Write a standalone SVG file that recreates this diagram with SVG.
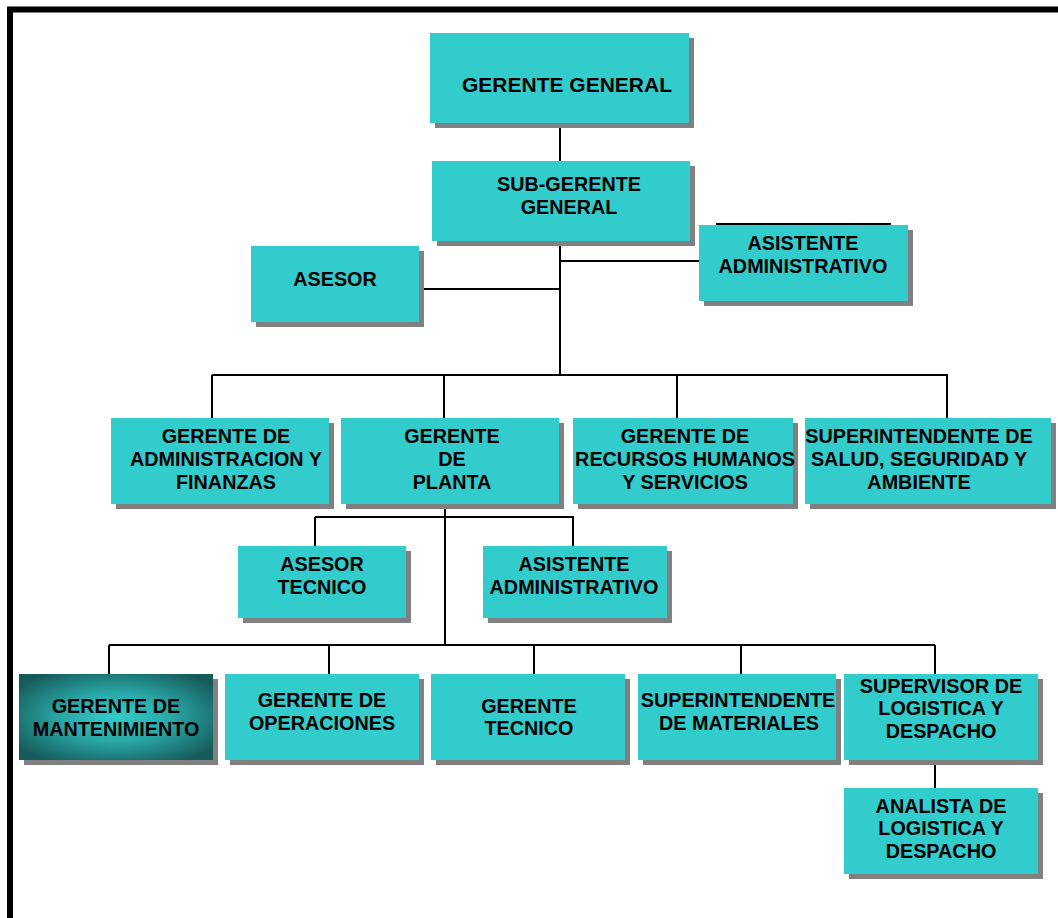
<svg xmlns="http://www.w3.org/2000/svg" width="1058" height="918" viewBox="0 0 1058 918">
<defs>
<style>
.box{fill:#33CCCC}
.sh{fill:#808080}
.t{font-family:"Liberation Sans",Arial,sans-serif;font-weight:bold;font-size:19.8px;fill:#000;text-anchor:middle}
.c line{stroke:#000;stroke-width:2;fill:none}
</style>
<radialGradient id="mantGrad" cx="0.5" cy="0.5" r="0.62">
<stop offset="0" stop-color="#33CCCC"/>
<stop offset="0.45" stop-color="#2AA8A8"/>
<stop offset="1" stop-color="#165A5A"/>
</radialGradient>
</defs>
<rect width="1058" height="918" fill="#fff"/>
<rect x="10" y="9.5" width="1100" height="1000" fill="none" stroke="#000" stroke-width="6"/>
<g class="c" id="connectors">
<line x1="560" y1="123" x2="560" y2="161"/>
<line x1="560" y1="241" x2="560" y2="375"/>
<line x1="560" y1="261" x2="699" y2="261"/>
<line x1="418" y1="289" x2="560" y2="289"/>
<line x1="716" y1="224" x2="891" y2="224"/>
<line x1="212" y1="375" x2="948" y2="375"/>
<line x1="212" y1="375" x2="212" y2="418"/>
<line x1="444" y1="375" x2="444" y2="418"/>
<line x1="677" y1="375" x2="677" y2="418"/>
<line x1="947" y1="375" x2="947" y2="418"/>
<line x1="445" y1="504" x2="445" y2="645"/>
<line x1="315" y1="517" x2="574" y2="517"/>
<line x1="315" y1="517" x2="315" y2="546"/>
<line x1="573" y1="517" x2="573" y2="546"/>
<line x1="109" y1="645" x2="935" y2="645"/>
<line x1="109" y1="645" x2="109" y2="674"/>
<line x1="329" y1="645" x2="329" y2="674"/>
<line x1="534" y1="645" x2="534" y2="674"/>
<line x1="741" y1="645" x2="741" y2="674"/>
<line x1="935" y1="645" x2="935" y2="674"/>
<line x1="935" y1="760" x2="935" y2="788"/>
</g>
<g id="gerente-general">
<rect class="sh" x="435" y="38" width="259" height="90"/>
<rect class="box" x="430" y="33" width="259" height="90"/>
<text class="t" x="567" y="92" style="font-size:21px">GERENTE GENERAL</text>
</g>
<g id="sub-gerente">
<rect class="sh" x="437" y="166" width="258" height="80"/>
<rect class="box" x="432" y="161" width="258" height="80"/>
<text class="t" x="569" y="191">SUB-GERENTE</text>
<text class="t" x="569" y="214">GENERAL</text>
</g>
<g id="asistente-admin-1">
<rect class="sh" x="704" y="230" width="209" height="76"/>
<rect class="box" x="699" y="225" width="209" height="76"/>
<text class="t" x="803" y="250">ASISTENTE</text>
<text class="t" x="803" y="273">ADMINISTRATIVO</text>
</g>
<g id="asesor">
<rect class="sh" x="256" y="251" width="168" height="76"/>
<rect class="box" x="251" y="246" width="168" height="76"/>
<text class="t" x="335" y="286">ASESOR</text>
</g>
<g id="gerente-admin-finanzas">
<rect class="sh" x="116" y="423" width="218" height="86"/>
<rect class="box" x="111" y="418" width="218" height="86"/>
<text class="t" x="226" y="443">GERENTE DE</text>
<text class="t" x="226" y="466">ADMINISTRACION Y</text>
<text class="t" x="226" y="489">FINANZAS</text>
</g>
<g id="gerente-planta">
<rect class="sh" x="346" y="423" width="218" height="86"/>
<rect class="box" x="341" y="418" width="218" height="86"/>
<text class="t" x="452" y="443">GERENTE</text>
<text class="t" x="452" y="466">DE</text>
<text class="t" x="452" y="489">PLANTA</text>
</g>
<g id="gerente-rrhh">
<rect class="sh" x="578" y="423" width="220" height="86"/>
<rect class="box" x="573" y="418" width="220" height="86"/>
<text class="t" x="685" y="443">GERENTE DE</text>
<text class="t" x="685" y="466">RECURSOS HUMANOS</text>
<text class="t" x="685" y="489">Y SERVICIOS</text>
</g>
<g id="superintendente-ssa">
<rect class="sh" x="810" y="423" width="246" height="86"/>
<rect class="box" x="805" y="418" width="246" height="86"/>
<text class="t" x="919" y="443">SUPERINTENDENTE DE</text>
<text class="t" x="919" y="466">SALUD, SEGURIDAD Y</text>
<text class="t" x="919" y="489">AMBIENTE</text>
</g>
<g id="asesor-tecnico">
<rect class="sh" x="243" y="551" width="168" height="72"/>
<rect class="box" x="238" y="546" width="168" height="72"/>
<text class="t" x="322" y="571">ASESOR</text>
<text class="t" x="322" y="594">TECNICO</text>
</g>
<g id="asistente-admin-2">
<rect class="sh" x="488" y="551" width="184" height="72"/>
<rect class="box" x="483" y="546" width="184" height="72"/>
<text class="t" x="574" y="571">ASISTENTE</text>
<text class="t" x="574" y="594">ADMINISTRATIVO</text>
</g>
<g id="gerente-mantenimiento">
<rect class="sh" x="24" y="679" width="194" height="86"/>
<rect x="19" y="674" width="194" height="86" fill="url(#mantGrad)"/>
<text class="t" x="116" y="713">GERENTE DE</text>
<text class="t" x="116" y="736">MANTENIMIENTO</text>
</g>
<g id="gerente-operaciones">
<rect class="sh" x="230" y="679" width="194" height="86"/>
<rect class="box" x="225" y="674" width="194" height="86"/>
<text class="t" x="322" y="707">GERENTE DE</text>
<text class="t" x="322" y="730">OPERACIONES</text>
</g>
<g id="gerente-tecnico">
<rect class="sh" x="436" y="679" width="194" height="86"/>
<rect class="box" x="431" y="674" width="194" height="86"/>
<text class="t" x="529" y="713">GERENTE</text>
<text class="t" x="529" y="735">TECNICO</text>
</g>
<g id="superintendente-materiales">
<rect class="sh" x="643" y="679" width="198" height="86"/>
<rect class="box" x="638" y="674" width="198" height="86"/>
<text class="t" x="738" y="707">SUPERINTENDENTE</text>
<text class="t" x="739" y="730">DE MATERIALES</text>
</g>
<g id="supervisor-logistica">
<rect class="sh" x="849" y="679" width="194" height="86"/>
<rect class="box" x="844" y="674" width="194" height="86"/>
<text class="t" x="941" y="693">SUPERVISOR DE</text>
<text class="t" x="941" y="715">LOGISTICA Y</text>
<text class="t" x="941" y="738">DESPACHO</text>
</g>
<g id="analista-logistica">
<rect class="sh" x="849" y="793" width="194" height="86"/>
<rect class="box" x="844" y="788" width="194" height="86"/>
<text class="t" x="941" y="813">ANALISTA DE</text>
<text class="t" x="941" y="835">LOGISTICA Y</text>
<text class="t" x="941" y="858">DESPACHO</text>
</g>
</svg>
